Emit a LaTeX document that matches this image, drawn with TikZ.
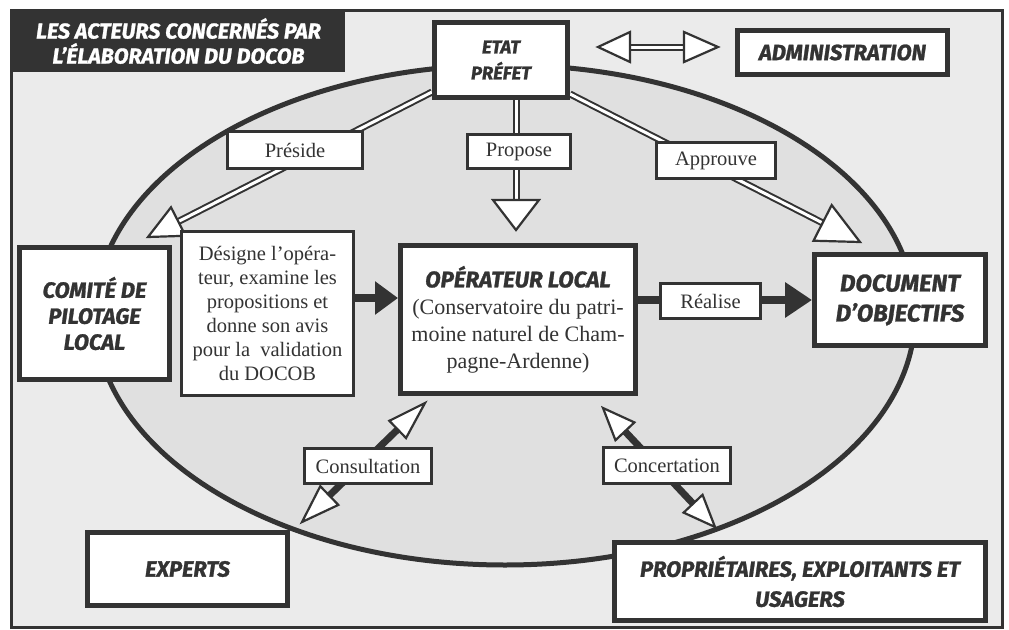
\documentclass[tikz,border=0pt]{standalone}
\usepackage{fontspec}
\setmainfont{Liberation Serif}
\newfontfamily\headfont[BoldItalicFeatures={FakeBold=1.2}]{Fira Sans}
\usetikzlibrary{calc,arrows.meta}
\definecolor{ink}{HTML}{333333}
\definecolor{bgout}{HTML}{EBEBEB}
\definecolor{bgin}{HTML}{E0E0E0}
\pgfdeclarelayer{bg}
\pgfdeclarelayer{arr}
\pgfsetlayers{bg,arr,main}
\newcommand\hhead[4]{% tip, toward, length, halfwidth
  \path (#1) coordinate (hh-t) ($(#1)!#3!(#2)$) coordinate (hh-b);
  \draw[ink,line width=2.2pt,fill=white,line join=miter]
    (hh-t) -- ($(hh-b)!#4!90:(hh-t)$) -- ($(hh-b)!#4!-90:(hh-t)$) -- cycle;}
\tikzset{
  hfont/.style={font=\headfont\bfseries\itshape\fontsize{#1}{26}\selectfont},
  headbox/.style={draw=ink,line width=5pt,fill=white,text=ink,align=center,inner sep=0pt},
  lblbox/.style={draw=ink,line width=3pt,fill=white,text=ink,align=center,inner sep=0pt,
    font=\fontsize{20.5}{24}\selectfont},
  dshaft/.style={draw=ink,double=white,double distance=3pt,line width=2pt},
  sshaft/.style={draw=ink,line width=7pt},
}
\begin{document}
\begin{tikzpicture}[x=1pt,y=-1pt]
\useasboundingbox (0,0) rectangle (1009,629);
\begin{pgfonlayer}{bg}
\fill[white] (0,0) rectangle (1009,629);
\draw[ink,line width=3pt,fill=bgout] (11.5,10) rectangle (1002,627);
\draw[ink,line width=5pt,fill=bgin] (505,315) ellipse [x radius=410,y radius=250];
\end{pgfonlayer}

% title
\node[fill=ink,minimum width=333pt,minimum height=62pt,inner sep=0pt,text=white,align=center,
  font=\headfont\bfseries\itshape\fontsize{21.5}{25}\selectfont] (title) at (178.5,41)
  {LES ACTEURS CONCERNÉS PAR\\L’ÉLABORATION DU DOCOB};

% main boxes
\node[headbox,hfont=18.5,minimum width=133pt,minimum height=75pt] (etat) at (501,60) {ETAT\\PRÉFET};
\node[headbox,hfont=22,minimum width=210pt,minimum height=44pt] (admin) at (842.5,52.5) {ADMINISTRATION};
\node[headbox,hfont=22,minimum width=150pt,minimum height=132pt] (comite) at (94.5,313.5) {COMITÉ DE\\PILOTAGE\\LOCAL};
\node[lblbox,minimum width=172pt,minimum height=164pt] (desig) at (267.5,313.5)
  {Désigne l’opéra-\\teur, examine les\\propositions et\\donne son avis\\pour la~~validation\\du DOCOB};
\node[headbox,minimum width=235pt,minimum height=148pt,font=\fontsize{22}{27}\selectfont] (oper) at (518,319.5)
  {{\headfont\bfseries\itshape\fontsize{22.5}{26}\selectfont OPÉRATEUR LOCAL}\\(Conservatoire du patri-\\moine naturel de Cham-\\pagne-Ardenne)};
\node[headbox,hfont=24,minimum width=171pt,minimum height=91pt,font=\headfont\bfseries\itshape\fontsize{24}{30}\selectfont] (doc) at (900,300) {DOCUMENT\\D’OBJECTIFS};
\node[headbox,hfont=22,minimum width=200pt,minimum height=73pt] (experts) at (187.5,569) {EXPERTS};
\node[headbox,hfont=22,minimum width=371pt,minimum height=78pt,font=\headfont\bfseries\itshape\fontsize{22}{30}\selectfont] (prop) at (800,581.5) {PROPRIÉTAIRES, EXPLOITANTS ET\\USAGERS};

% label boxes
\node[lblbox,minimum width=135pt,minimum height=37pt] (preside) at (295,150) {Préside};
\node[lblbox,minimum width=103pt,minimum height=34pt] (propose) at (519,151.5) {Propose};
\node[lblbox,minimum width=119pt,minimum height=36pt] (approuve) at (716,160.5) {Approuve};
\node[lblbox,minimum width=100pt,minimum height=35pt] (realise) at (710.5,301) {Réalise};
\node[lblbox,minimum width=127pt,minimum height=35pt] (consult) at (368,466) {Consultation};
\node[lblbox,minimum width=127pt,minimum height=36pt] (concert) at (667,465.5) {Concertation};

% arrow end points
\coordinate (presS) at ($(etat.south west)+(0,-8)$);
\coordinate (presT) at (148,237);
\coordinate (propS) at ($(etat.south)+(15,0)$);
\coordinate (propT) at (516,230);
\coordinate (apprS) at ($(etat.south east)+(0,-6)$);
\coordinate (apprT) at (860,242);
\coordinate (admL) at (598,47);
\coordinate (admR) at (718,47);
\coordinate (conA) at (425,403);
\coordinate (conB) at (302,522);
\coordinate (ccA) at (603,408);
\coordinate (ccB) at (715,527);

\begin{pgfonlayer}{arr}
% Preside
\draw[dshaft] (presS) -- ($(presT)!32pt!(presS)$);
\hhead{presT}{presS}{34pt}{16pt}
% Propose
\draw[dshaft] (propS) -- ($(propT)!30pt!(propS)$);
\hhead{propT}{propS}{30pt}{23pt}
% Approuve
\draw[dshaft] (apprS) -- ($(apprT)!40pt!(apprS)$);
\hhead{apprT}{apprS}{42pt}{20pt}
% Administration
\draw[dshaft] ($(admL)!30pt!(admR)$) -- ($(admR)!30pt!(admL)$);
\hhead{admL}{admR}{32pt}{15pt}
\hhead{admR}{admL}{34pt}{15pt}
% Designe -> operateur
\draw[ink,line width=8pt,-{Triangle[length=23pt,width=32pt]}] (desig.east |- 0,298) -- (oper.west |- 0,298);
% Realise
\draw[ink,line width=8pt,-{Triangle[length=27pt,width=34pt]}] (oper.east |- doc.west) -- (doc.west);
% Consultation
\draw[sshaft] ($(conA)!36pt!(conB)$) -- ($(conB)!36pt!(conA)$);
\hhead{conA}{conB}{38pt}{12pt}
\hhead{conB}{conA}{38pt}{13pt}
% Concertation
\draw[sshaft] ($(ccA)!30pt!(ccB)$) -- ($(ccB)!30pt!(ccA)$);
\hhead{ccA}{ccB}{32pt}{13pt}
\hhead{ccB}{ccA}{32pt}{13pt}
\end{pgfonlayer}
\end{tikzpicture}
\end{document}
